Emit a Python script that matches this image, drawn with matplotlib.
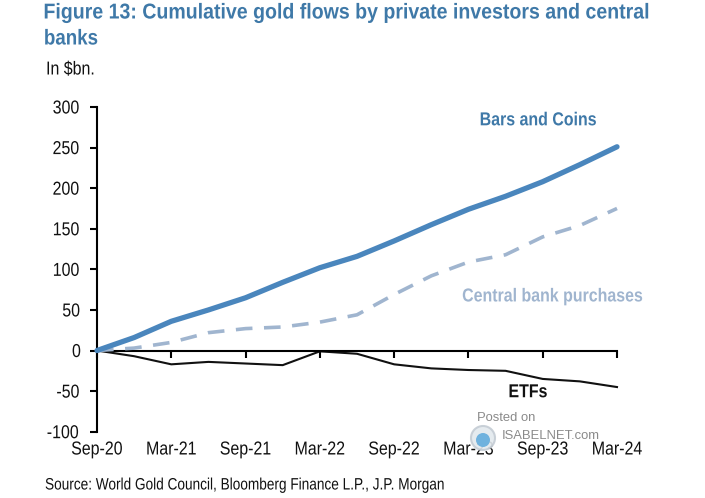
"""
Cumulative gold flows by private investors and central banks
"""

import matplotlib
matplotlib.use("Agg")
import matplotlib.pyplot as plt
from matplotlib.patches import Circle
from matplotlib.patheffects import AbstractPathEffect
from matplotlib.transforms import Affine2D

QUARTERS = list(range(15))
TICK_POS = QUARTERS[::2]
TICK_LABELS = ["Sep-20", "Mar-21", "Sep-21", "Mar-22", "Sep-22", "Mar-23", "Sep-23", "Mar-24"]
Y_TICKS = [-100, -50, 0, 50, 100, 150, 200, 250, 300]

BARS_COINS = [0, 16, 36, 50, 65, 84, 102, 116, 135, 155, 174, 190, 208, 229, 251]
CENTRAL_BANKS = [0, 3, 10, 22, 27, 29, 35, 44, 69, 92, 109, 118, 140, 154, 175]
ETFS = [0, -7, -17, -14, -16, -18, -1, -4, -17, -22, -24, -25, -35, -38, -45]

BLUE = "#4a86bd"
TITLE_BLUE = "#3f79a8"
LIGHT_BLUE = "#a0b5cf"
BLACK = "#111111"
GREY = "#8a8a8a"

W, H = 705, 498

plt.rcParams["font.family"] = ["Liberation Sans", "DejaVu Sans"]
plt.rcParams["axes.unicode_minus"] = False


class Narrow(AbstractPathEffect):
    # the reference uses a narrow font, squeeze the glyphs around the text centre
    def __init__(self, scale=0.85):
        super().__init__()
        self.scale = scale

    def draw_path(self, renderer, gc, tpath, affine, rgbFace=None):
        box = tpath.get_extents(affine)
        cx = (box.x0 + box.x1) / 2
        squeeze = Affine2D().translate(-cx, 0).scale(self.scale, 1).translate(cx, 0)
        renderer.draw_path(gc, tpath, affine + squeeze, rgbFace)


def fig_text(fig, x, y, s, **kw):
    fig.text(x / W, 1 - y / H, s, **kw)


def main():
    fig = plt.figure(figsize=(W / 100, H / 100), dpi=100)
    ax = fig.add_axes([97 / W, 1 - 431.7 / H, 520 / W, (431.7 - 107) / H])

    ax.plot(QUARTERS, ETFS, color=BLACK, lw=1.5, zorder=2, clip_on=False)
    ax.plot(QUARTERS, CENTRAL_BANKS, color=LIGHT_BLUE, lw=2.6, dashes=(4.6, 3.2), zorder=3, clip_on=False)
    ax.plot(QUARTERS, BARS_COINS, color=BLUE, lw=3.8, zorder=4, solid_capstyle="round", clip_on=False)

    ax.set_xlim(0, 14)
    ax.set_ylim(-100, 300)
    ax.set_yticks(Y_TICKS)
    ax.set_xticks(TICK_POS)
    ax.set_xticklabels(TICK_LABELS)

    for side in ["top", "right"]:
        ax.spines[side].set_visible(False)
    ax.spines["left"].set_linewidth(1.5)
    ax.spines["bottom"].set_position(("data", 0))
    ax.spines["bottom"].set_linewidth(1.5)

    ax.tick_params(axis="y", length=5, width=1.5, labelsize=13.5, pad=6, labelcolor=BLACK)
    ax.tick_params(axis="x", direction="out", length=5, width=1.5, labelsize=13.5, pad=60.5, labelcolor=BLACK)
    for lab in ax.get_xticklabels() + ax.get_yticklabels():
        lab.set_path_effects([Narrow()])

    ax.text(11.87, 283, "Bars and Coins", color=TITLE_BLUE, fontsize=13.5, fontweight="bold",
            ha="center", va="center", path_effects=[Narrow()])
    ax.text(12.25, 66, "Central bank purchases", color=LIGHT_BLUE, fontsize=13.5, fontweight="bold",
            ha="center", va="center", path_effects=[Narrow()])
    ax.text(11.6, -52, "ETFs", color=BLACK, fontsize=13.5, fontweight="bold",
            ha="center", va="center", path_effects=[Narrow()])

    fig_text(fig, 347, 13, "Figure 13: Cumulative gold flows by private investors and central",
             color=TITLE_BLUE, fontsize=15.5, fontweight="bold", va="center", ha="center",
             path_effects=[Narrow(0.908)])
    fig_text(fig, 71, 39, "banks", color=TITLE_BLUE, fontsize=15.5, fontweight="bold", va="center",
             ha="center", path_effects=[Narrow(0.87)])
    fig_text(fig, 70.5, 70, "In $bn.", color=BLACK, fontsize=13.5, va="center", ha="center",
             path_effects=[Narrow()])
    fig_text(fig, 245.5, 485, "Source: World Gold Council, Bloomberg Finance L.P., J.P. Morgan",
             color=BLACK, fontsize=11.9, va="center", ha="center", path_effects=[Narrow(0.825)])

    # watermark
    fig_text(fig, 477, 418, "Posted on", color=GREY, fontsize=9.4, va="center")
    fig_text(fig, 502, 436, "ISABELNET.com", color=GREY, fontsize=9.4, va="center")
    fig.add_artist(Circle((483, H - 438), 12, transform=None, facecolor="#e3e9ee",
                          edgecolor="#c4ccd4", lw=1.5, alpha=0.9, zorder=5))
    fig.add_artist(Circle((483, H - 440), 7, transform=None, facecolor="#6fb2de",
                          edgecolor="none", zorder=6))

    fig.savefig("out.png", dpi=100)


if __name__ == "__main__":
    main()
